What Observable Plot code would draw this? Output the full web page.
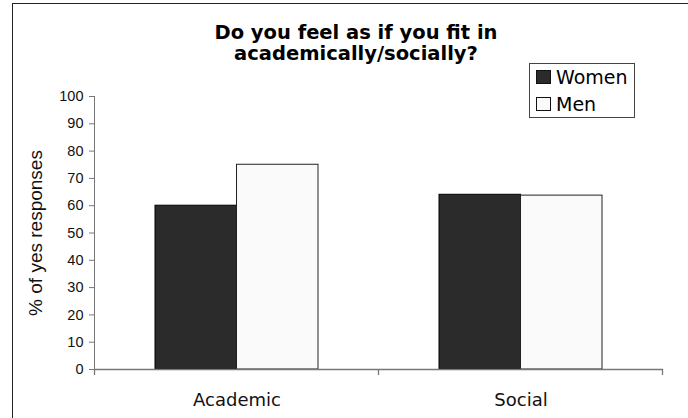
<!DOCTYPE html>
<html>
<head>
<meta charset="utf-8">
<script src="https://cdn.jsdelivr.net/npm/d3@7"></script>
<script src="https://cdn.jsdelivr.net/npm/@observablehq/plot@0.6"></script>
<style>
  html, body { margin: 0; padding: 0; background: #fff; }
  #wrap { position: relative; width: 688px; height: 418px; overflow: hidden; }
  #frame { position: absolute; left: 12px; top: 3px; width: 720px; height: 520px;
           border-left: 1.4px solid #222; border-top: 1.4px solid #222; }
  #chart { position: absolute; left: 0; top: 0; }
  #title { position: absolute; left: 56px; width: 600px; top: 22px; text-align: center;
           font: bold 19.5px "DejaVu Sans", Verdana, sans-serif; line-height: 21px; color: #000; white-space: nowrap; }
  #legend { position: absolute; left: 529px; top: 63px; width: 104px; height: 53px;
            border: 1px solid #444; background: #fff; font: 19px "DejaVu Sans", Verdana, sans-serif; color: #000; }
  #legend .item { display: flex; align-items: center; height: 26.5px; padding-left: 6px; }
  #legend .sw { width: 15px; height: 14px; border: 1px solid #111; margin-right: 5px; box-sizing: border-box; }
  #chart svg text { fill: #111; }
  #chart g[aria-label="y-axis label"] text { font-size: 19px; }
  #chart g[aria-label="x-axis tick label"] text { font-family: "DejaVu Sans", Verdana, sans-serif; font-size: 18px; }
</style>
</head>
<body>
<div id="wrap">
  <div id="frame"></div>
  <div id="chart"></div>
  <div id="title">Do you feel as if you fit in<br>academically/socially?</div>
  <div id="legend"></div>
</div>
<script>
// ---- data ----
const categories = ["Academic", "Social"];
const series = ["Women", "Men"];
const women = [60, 64];
const men = [75, 63.7];
const yTicks = [0, 10, 20, 30, 40, 50, 60, 70, 80, 90, 100];
const seriesColors = ["#2b2b2b", "#fafafa"];
const yLabel = "% of yes responses";

const rows = categories.flatMap((c, i) => [
  {category: c, series: series[0], value: women[i]},
  {category: c, series: series[1], value: men[i]}
]);

// ---- layout ----
const W = 688, H = 418;
const mL = 94, mR = 25, mT = 96, mB = 49;
const padIn = 0.427, padOut = padIn / 2;
const step = (W - mL - mR) / (categories.length - padIn + 2 * padOut);
const half = step * (1 - padIn) / 2;

// tick marks between categories (derived from the x scale)
function categoryBoundaries(index, scales) {
  const x = scales.x, y = scales.y;
  const st = x.step(), bw = x.bandwidth();
  const gap = (st - bw) / 2;
  const xs = [x(categories[0]) - gap, ...categories.map(c => x(c) + bw + gap)];
  const y0 = y(0);
  const g = d3.create("svg:g").attr("stroke", "#777").attr("stroke-width", 1.3);
  g.selectAll("line").data(xs).join("line")
    .attr("x1", d => d).attr("x2", d => d)
    .attr("y1", y0).attr("y2", y0 + 6);
  return g.node();
}

const plot = Plot.plot({
  width: W, height: H,
  marginLeft: mL, marginRight: mR, marginTop: mT, marginBottom: mB,
  style: {background: "transparent", color: "#777", overflow: "visible",
          fontFamily: "'Liberation Sans', Arial, sans-serif", fontSize: "14.5px"},
  x: {domain: categories, paddingInner: padIn, paddingOuter: padOut, tickSize: 0, tickPadding: 24, label: null},
  y: {domain: [0, 100], ticks: yTicks, tickSize: 5, tickPadding: 6, line: true,
      label: yLabel, labelAnchor: "center", labelOffset: 66, labelArrow: "none"},
  color: {domain: series, range: seriesColors},
  marks: [
    Plot.barY(rows.filter(d => d.series === series[0]),
      {x: "category", y: "value", fill: "series", stroke: "#000", strokeWidth: 1, insetRight: half}),
    Plot.barY(rows.filter(d => d.series === series[1]),
      {x: "category", y: "value", fill: "series", stroke: "#222", strokeWidth: 1, insetLeft: half}),
    Plot.ruleY([0], {stroke: "#777", strokeWidth: 1.3}),
    categoryBoundaries
  ]
});
document.getElementById("chart").appendChild(plot);

// legend from the plot's colour scale
const colorScale = plot.scale("color");
const legend = d3.select("#legend");
series.forEach((s, i) => {
  const item = legend.append("div").attr("class", "item");
  item.append("span").attr("class", "sw").style("background", colorScale.range[i]);
  item.append("span").text(s);
});
</script>
</body>
</html>
